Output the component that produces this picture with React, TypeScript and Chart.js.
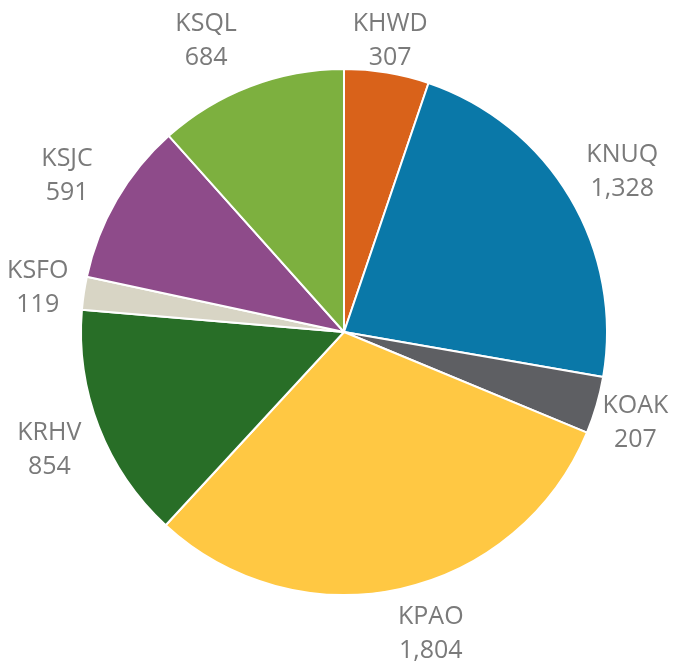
import React, { useEffect, useRef } from "react";
import { Chart, registerables } from "chart.js";

Chart.register(...registerables);

const categories = ["KHWD", "KNUQ", "KOAK", "KPAO", "KRHV", "KSFO", "KSJC", "KSQL"];
const values = [307, 1328, 207, 1804, 854, 119, 591, 684];
const colors = ["#D9621A", "#0A78A8", "#5E5F63", "#FFC843", "#286E27", "#D8D5C5", "#8E4B8A", "#7DB03F"];
// small per-label nudges (px) to mimic the reference's label placement
const labelNudgeX = [-6, 4, -12, 19, -1, 4, -10, -26];
const labelNudgeY = [13, -4, 3, -3, 4, 0, -2, -3];

const labelPlugin = {
  id: "outsideLabels",
  afterDatasetsDraw(chart: any) {
    const ctx = chart.ctx;
    const meta = chart.getDatasetMeta(0);
    ctx.save();
    ctx.font = "25px 'Open Sans'";
    ctx.fillStyle = "#7a7a7a";
    ctx.textAlign = "center";
    ctx.textBaseline = "alphabetic";
    const gap = 20;
    const h = 54;
    const half = 17;
    const capHalf = 9;
    meta.data.forEach((arc: any, i: number) => {
      const p = arc.getProps(["x", "y", "startAngle", "endAngle", "outerRadius"], true);
      const mid = (p.startAngle + p.endAngle) / 2;
      const ux = Math.cos(mid);
      const uy = Math.sin(mid);
      const name = categories[i];
      const val = values[i].toLocaleString("en-US");
      const w = Math.max(ctx.measureText(name).width, ctx.measureText(val).width);
      const cx = p.x + ux * (p.outerRadius + gap) + (ux * w) / 2 + labelNudgeX[i];
      const cy = p.y + uy * (p.outerRadius + gap) + (uy * h) / 2 + labelNudgeY[i];
      ctx.fillText(name, cx, cy - half + capHalf);
      ctx.fillText(val, cx, cy + half + capHalf);
    });
    ctx.restore();
  },
};

export default function App() {
  const ref = useRef<HTMLCanvasElement>(null);
  useEffect(() => {
    if (!ref.current) return;
    const chart = new Chart(ref.current, {
      type: "pie",
      data: {
        labels: categories,
        datasets: [
          {
            data: values,
            backgroundColor: colors,
            borderColor: "#ffffff",
            borderWidth: 2,
            hoverOffset: 0,
          },
        ],
      },
      options: {
        responsive: false,
        animation: false,
        layout: { padding: { left: 80, right: 82, top: 68, bottom: 67 } },
        plugins: { legend: { display: false }, tooltip: { enabled: false } },
      },
      plugins: [labelPlugin],
    });
    return () => chart.destroy();
  }, []);
  return (
    <div style={{ position: "fixed", left: 0, top: 0, width: 690, height: 663, background: "#fff" }}>
      <canvas ref={ref} width={690} height={663} />
    </div>
  );
}
